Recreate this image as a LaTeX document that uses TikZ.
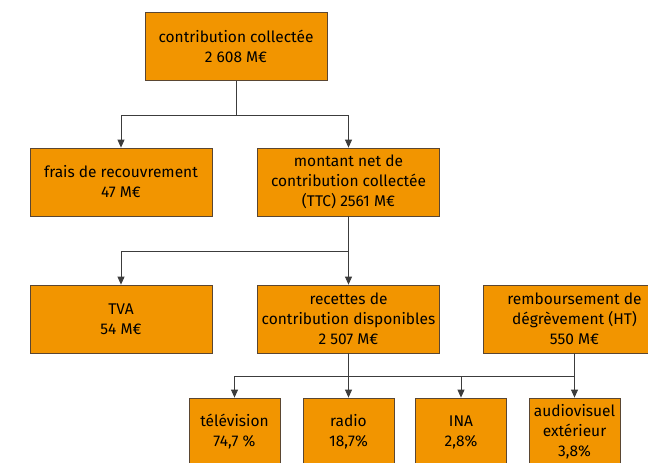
\documentclass[tikz,border=0pt]{standalone}
\usepackage{fontspec}
\setmainfont{Fira Sans}
\usetikzlibrary{arrows.meta}
\definecolor{boxorange}{HTML}{F29500}
\definecolor{boxedge}{HTML}{5A4632}
\definecolor{wire}{HTML}{3C3C3C}
\begin{document}
\begin{tikzpicture}[x=1pt, y=-1pt,
    box/.style={rectangle, draw=boxedge, fill=boxorange, line width=0.8pt,
      minimum width=182pt, minimum height=68pt, inner sep=1pt, align=center,
      font=\fontsize{15.5}{20}\selectfont},
    smallbox/.style={box, minimum width=91pt},
    link/.style={draw=wire, line width=0.8pt},
    arrow/.style={link, -{Triangle[width=7pt,length=8pt]}}]
    \useasboundingbox (0,0) rectangle (648,463);

    % Nodes
    \node[box] at (236, 46.5) (collectee) {contribution collectée\\2 608 M€};
    \node[box] at (121, 182) (frais) {frais de recouvrement\\47 M€};
    \node[box] at (348.5, 182) (montant) {montant net de\\contribution collectée\\(TTC) 2561 M€};
    \node[box] at (121, 319) (tva) {TVA\\54 M€};
    \node[box] at (348.5, 319) (recettes) {recettes de\\contribution disponibles\\2 507 M€};
    \node[box] at (574.5, 319) (remb) {remboursement de\\dégrèvement (HT)\\550 M€};
    \node[smallbox] at (234.5, 432) (tele) {télévision\\74,7 \%};
    \node[smallbox] at (348.5, 432) (radio) {radio\\18,7\%};
    \node[smallbox] at (461, 432) (ina) {INA\\2,8\%};
    \node[smallbox] at (574.5, 432) (ave) {audiovisuel\\extérieur\\3,8\%};

    % Junctions
    \coordinate (split1) at (236, 115);
    \coordinate (split2) at (348.5, 251);
    \coordinate (split3) at (574.5, 376);

    \draw[link] (collectee) -- (split1);
    \draw[arrow] (split1) -| (frais);
    \draw[arrow] (split1) -| (montant);

    \draw[link] (montant) -- (split2);
    \draw[arrow] (split2) -| (tva);
    \draw[arrow] (split2) -- (recettes);

    \draw[arrow] (recettes) -- (radio);
    \draw[link] (remb) -- (split3);
    \draw[arrow] (split3) -| (tele);
    \draw[arrow] (split3) -| (ina);
    \draw[arrow] (split3) -- (ave);

  \end{tikzpicture}
\end{document}
